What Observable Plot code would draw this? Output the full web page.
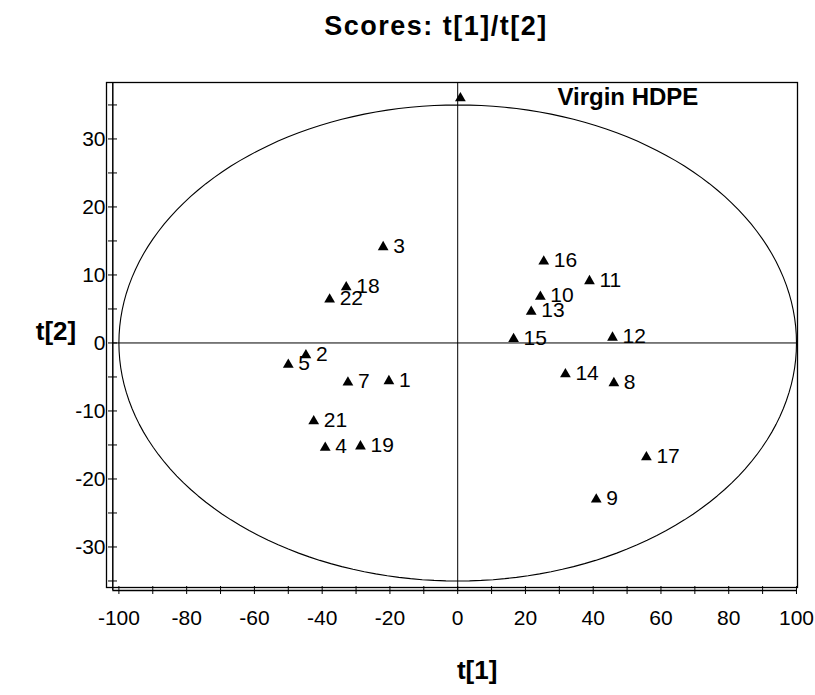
<!DOCTYPE html>
<html><head><meta charset="utf-8">
<script src="https://cdn.jsdelivr.net/npm/d3@7"></script>
<script src="https://cdn.jsdelivr.net/npm/@observablehq/plot@0.6"></script>
<style>
body{margin:0;background:#fff;font-family:"Liberation Sans",Arial,sans-serif;}
#title{height:60px;box-sizing:border-box;padding-top:13px;padding-left:57px;text-align:center;font-weight:bold;font-size:27px;line-height:27px;letter-spacing:1.5px;color:#000;}
</style></head><body>
<div id="title">Scores: t[1]/t[2]</div>
<div id="chart"></div>
<script>
// ---- data ----
const ids = ["1","2","3","4","5","7","8","9","10","11","12","13","14","15","16","17","18","19","21","22"];
const t1  = [-20.3,-44.8,-22.0,-39.1,-50.0,-32.4,46.1,40.9,24.4,38.9,45.7,21.7,31.8,16.5,25.4,55.7,-32.9,-28.7,-42.5,-37.8];
const t2  = [-5.6,-1.8,14.1,-15.4,-3.2,-5.8,-5.9,-23.0,6.8,9.1,0.8,4.6,-4.6,0.6,12.0,-16.8,8.2,-15.2,-11.5,6.4];
const virginLabel = ["Virgin HDPE"];
const virginT1 = [0.8];
const virginT2 = [36.0];
const xTicks = [-100,-90,-80,-70,-60,-50,-40,-30,-20,-10,0,10,20,30,40,50,60,70,80,90,100];
const xTickLabels = [-100,-80,-60,-40,-20,0,20,40,60,80,100];
const yTicks = [35,30,25,20,15,10,5,0,-5,-10,-15,-20,-25,-30,-35];
const yTickLabels = [30,20,10,0,-10,-20,-30];
const xDomain = [-101.8, 100.3];
const yDomain = [-36.4, 38.3];
const ellA = 100, ellB = 35; // Hotelling T2 ellipse semi-axes

const points = ids.map((id, i) => ({id, x: t1[i], y: t2[i]}));
const virgin = virginLabel.map((l, i) => ({label: l, x: virginT1[i], y: virginT2[i]}));
const ellipse = d3.range(0, 361, 2).map(a => ({x: ellA * Math.cos(a * Math.PI / 180), y: ellB * Math.sin(a * Math.PI / 180)}));
const fmt = d => String(d);

const chart = Plot.plot({
  width: 815,
  height: 635,
  marginTop: 22,
  marginBottom: 105,
  marginLeft: 112.3,
  marginRight: 18,
  style: {fontFamily: "'Liberation Sans', Arial, sans-serif", fontSize: "21px", color: "#000", background: "#fff"},
  x: {domain: xDomain},
  y: {domain: yDomain},
  marks: [
    Plot.frame({stroke: "#000", strokeWidth: 1.3, insetLeft: -6.3, insetBottom: 3}),
    Plot.ruleX([xDomain[0]], {stroke: "#000", strokeWidth: 1.5}),
    Plot.ruleY([yDomain[0]], {stroke: "#000", strokeWidth: 1.5}),
    Plot.ruleX([0], {stroke: "#000", strokeWidth: 1}),
    Plot.ruleY([0], {stroke: "#000", strokeWidth: 1}),
    Plot.line(ellipse, {x: "x", y: "y", stroke: "#000", strokeWidth: 1.1}),
    Plot.axisY({ticks: yTicks, anchor: "left", tickSize: 9, dx: 4.7, tickFormat: () => "", label: null, stroke: "#000"}),
    Plot.axisY({ticks: yTickLabels, anchor: "left", tickSize: 0, tickPadding: 7.3, tickFormat: fmt, fontSize: 21, label: null}),
    Plot.axisX({ticks: xTicks, anchor: "bottom", tickSize: 8, dy: -4, tickFormat: () => "", label: null, stroke: "#000"}),
    Plot.axisX({ticks: xTickLabels, anchor: "bottom", tickSize: 0, tickPadding: 20, tickFormat: fmt, fontSize: 21, label: null}),
    Plot.dot(points, {x: "x", y: "y", symbol: "triangle", r: 4, fill: "#000", stroke: "none"}),
    Plot.text(points, {x: "x", y: "y", text: "id", textAnchor: "start", dx: 10, dy: -1, fontSize: 21, fill: "#000"}),
    Plot.dot(virgin, {x: "x", y: "y", symbol: "triangle", r: 4, fill: "#000", stroke: "none"}),
    Plot.text(virgin, {x: "x", y: "y", text: "label", textAnchor: "start", dx: 97, dy: -0.6, fontSize: 24, fontWeight: "bold", fill: "#000"}),
    Plot.text(["t[2]"], {frameAnchor: "left", text: d => d, dx: -77, dy: -4.8, fontSize: 26, fontWeight: "bold", fill: "#000"}),
    Plot.text(["t[1]"], {frameAnchor: "bottom", text: d => d, dx: 22, dy: 88.7, fontSize: 26, fontWeight: "bold", fill: "#000"})
  ]
});
document.getElementById("chart").appendChild(chart);
</script></body></html>
